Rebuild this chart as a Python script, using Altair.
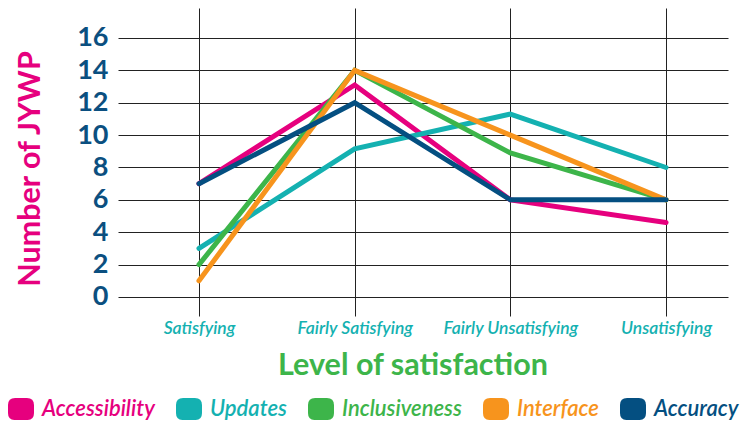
import altair as alt
import pandas as pd

categories = ["Satisfying", "Fairly Satisfying", "Fairly Unsatisfying", "Unsatisfying"]
series = ["Accessibility", "Updates", "Inclusiveness", "Interface", "Accuracy"]
colors = ["#e6007e", "#14b1b1", "#3db54a", "#f7941d", "#044f81"]

accessibility = [7, 13.1, 6, 4.6]
updates = [3, 9.15, 11.3, 8]
inclusiveness = [2, 14, 8.9, 6]
interface = [1, 14, 10, 6]
accuracy = [7, 12, 6, 6]

y_ticks = [0, 2, 4, 6, 8, 10, 12, 14, 16]

rows = []
for name, vals in zip(series, [accessibility, updates, inclusiveness, interface, accuracy]):
    for i, (c, v) in enumerate(zip(categories, vals)):
        rows.append({"series": name, "level": c, "idx": i, "value": v})
df = pd.DataFrame(rows)

color_scale = alt.Scale(domain=series, range=colors)

color_list = ",".join(f"'{c}'" for c in colors)
series_list = ",".join(f"'{s}'" for s in series)
label_color_expr = f"[{color_list}][indexof([{series_list}], datum.value)]"
cat_list = ",".join(f"'{c}'" for c in categories)
x_label_expr = f"[{cat_list}][datum.value]"

rounded = ("M-0.45,-0.85 L0.45,-0.85 Q1,-0.85 1,-0.3 L1,0.3 Q1,0.85 0.45,0.85 "
           "L-0.45,0.85 Q-1,0.85 -1,0.3 L-1,-0.3 Q-1,-0.85 -0.45,-0.85 Z")

FONT = "Lato"

x_enc = alt.X(
    "idx:Q",
    scale=alt.Scale(domain=[-0.5203, 3.398], nice=False, zero=False),
    axis=alt.Axis(
        values=list(range(len(categories))),
        labelExpr=x_label_expr,
        title="Level of satisfaction",
        titleFont=FONT, titleFontSize=30.5, titleFontWeight="bold", titleColor="#3db54a",
        titleBaseline="alphabetic", titleAlign="center", titleX=294.5, titleY=58,
        labelFont=FONT, labelFontSize=17.5, labelFontStyle="italic", labelFontWeight=600,
        labelColor="#14b1b1", labelAngle=0, labelBaseline="alphabetic", labelPadding=17.5,
        labelOverlap=False, labelFlush=False,
        ticks=False, tickSize=0, domain=False,
        grid=True, gridColor="#222222", gridWidth=1, gridOpacity=1,
    ),
)

y_enc = alt.Y(
    "value:Q",
    scale=alt.Scale(domain=[-1.174, 17.853], nice=False, zero=False),
    axis=alt.Axis(
        values=y_ticks,
        title="Number of JYWP",
        titleFont=FONT, titleFontSize=30.5, titleFontWeight="bold", titleColor="#e6007e",
        titleBaseline="alphabetic", titleAlign="center", titleAngle=270,
        titleX=-79, titleY=160.5,
        labelFont=FONT, labelFontSize=27, labelFontWeight="bold", labelColor="#0b4f80",
        labelPadding=10, labelBaseline="middle",
        ticks=False, tickSize=0, domain=False,
        grid=True, gridColor="#222222", gridWidth=1, gridOpacity=1,
    ),
)

lines = alt.Chart(df).mark_line(strokeWidth=5, strokeCap="round", strokeJoin="miter").encode(
    x=x_enc,
    y=y_enc,
    color=alt.Color("series:N", scale=color_scale, legend=None),
)

legend_layer = alt.Chart(df).mark_point(filled=True, opacity=1).encode(
    color=alt.Color(
        "series:N",
        scale=color_scale,
        legend=alt.Legend(
            title=None,
            orient="none",
            legendX=-110,
            legendY=387.5,
            direction="horizontal",
            symbolType=rounded,
            symbolSize=676,
            symbolStrokeWidth=0,
            labelFont=FONT,
            labelFontSize=22,
            labelFontStyle="italic",
            labelFontWeight=600,
            labelColor={"expr": label_color_expr},
            labelOffset=8,
            labelLimit=300,
            columnPadding=21,
            padding=0,
        ),
    ),
).transform_filter("false")

chart = alt.layer(lines, legend_layer).resolve_legend(color="independent").properties(
    width=610,
    height=308,
    autosize=alt.AutoSizeParams(type="none"),
    padding={"left": 110, "top": 0, "right": 15, "bottom": 104},
).configure_view(strokeWidth=0)

chart.save("out.html", embed_options={"renderer": "svg", "actions": False})
